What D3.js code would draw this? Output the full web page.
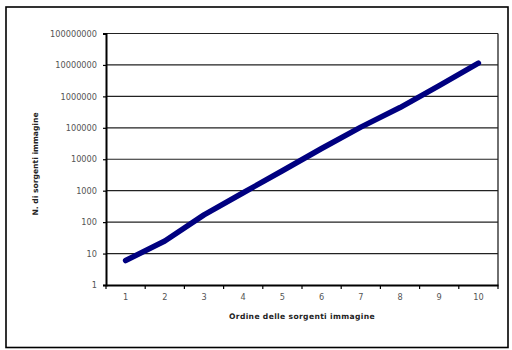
<!DOCTYPE html>
<html>
<head>
<meta charset="utf-8">
<script src="https://cdn.jsdelivr.net/npm/d3@7"></script>
<style>
  html, body { margin: 0; padding: 0; background: #fff; }
  svg { display: block; }
  text { font-family: "DejaVu Sans", Verdana, sans-serif; }
</style>
</head>
<body>
<svg id="chart" width="512" height="350"></svg>
<script>
// Order of the image sources
const orders = [1, 2, 3, 4, 5, 6, 7, 8, 9, 10];
// Number of image sources for each order
const sourceCounts = [6, 25, 170, 860, 4300, 22000, 105000, 440000, 2200000, 11500000];
// Decade tick values on the logarithmic axis
const yTicks = [1, 10, 100, 1000, 10000, 100000, 1000000, 10000000, 100000000];

const xTitle = "Ordine delle sorgenti immagine";
const yTitle = "N. di sorgenti immagine";

const svg = d3.select("#chart");
const plot = { left: 106, right: 498, top: 33.5, bottom: 285 };

// outer frame
svg.append("rect")
  .attr("x", 6).attr("y", 7).attr("width", 502).attr("height", 340.5)
  .attr("fill", "#fff").attr("stroke", "#000").attr("stroke-width", 1.6);

const x = d3.scaleBand().domain(orders).range([plot.left, plot.right]).paddingInner(0).paddingOuter(0);
const y = d3.scaleLog().domain([1, 1e8]).range([plot.bottom, plot.top]);

// horizontal gridlines
svg.append("g").selectAll("line").data(yTicks.slice(1)).join("line")
  .attr("x1", plot.left).attr("x2", plot.right)
  .attr("y1", d => y(d)).attr("y2", d => y(d))
  .attr("stroke", "#222").attr("stroke-width", 1.2);

// right border of plot area
svg.append("line")
  .attr("x1", plot.right).attr("x2", plot.right)
  .attr("y1", plot.top).attr("y2", plot.bottom)
  .attr("stroke", "#222").attr("stroke-width", 1.3);

// y axis
const yAxis = d3.axisLeft(y).tickValues(yTicks).tickFormat(d3.format("d")).tickSize(3).tickPadding(6);
const gy = svg.append("g").attr("transform", `translate(${plot.left},0)`).call(yAxis);
gy.select(".domain").attr("stroke", "#000").attr("stroke-width", 2);
gy.selectAll(".tick line").attr("stroke", "#000").attr("stroke-width", 1.2);
gy.selectAll(".tick text").attr("fill", "#555").style("font-size", "8.2px");

// x axis
const xAxis = d3.axisBottom(x).tickSize(0).tickPadding(9);
const gx = svg.append("g").attr("transform", `translate(0,${plot.bottom})`).call(xAxis);
gx.select(".domain").attr("stroke", "#000").attr("stroke-width", 2);
gx.selectAll(".tick text").attr("fill", "#555").style("font-size", "8.2px");

// x tick marks at category boundaries
const bounds = orders.map(o => x(o)).concat([plot.right]);
svg.append("g").selectAll("line").data(bounds).join("line")
  .attr("x1", d => d).attr("x2", d => d)
  .attr("y1", plot.bottom).attr("y2", plot.bottom + 4)
  .attr("stroke", "#000").attr("stroke-width", 1.2);

// data line
const line = d3.line()
  .x((d, i) => x(orders[i]) + x.bandwidth() / 2)
  .y(d => y(d));
svg.append("path").datum(sourceCounts)
  .attr("d", line)
  .attr("fill", "none")
  .attr("stroke", "#000080")
  .attr("stroke-width", 5.5)
  .attr("stroke-linecap", "round")
  .attr("stroke-linejoin", "round");

// axis titles
svg.append("text")
  .attr("x", (plot.left + plot.right) / 2).attr("y", 319)
  .attr("text-anchor", "middle")
  .attr("fill", "#222")
  .style("font-size", "7.6px").style("font-weight", "bold")
  .style("letter-spacing", "0.35px")
  .text(xTitle);

svg.append("text")
  .attr("transform", "translate(37.5,164) rotate(-90)")
  .attr("text-anchor", "middle")
  .attr("fill", "#222")
  .style("font-size", "7.6px").style("font-weight", "bold")
  .text(yTitle);
</script>
</body>
</html>
